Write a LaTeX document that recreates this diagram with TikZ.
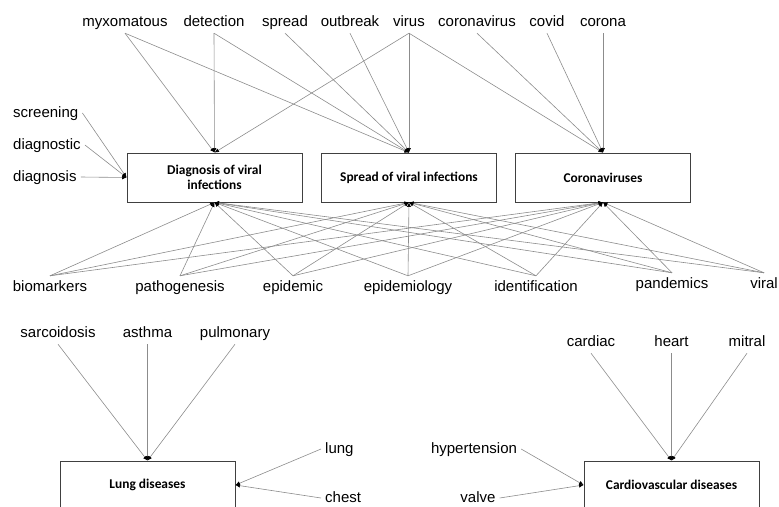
\documentclass[tikz,border=0pt]{standalone}
\usepackage{fontspec}
\setmainfont{Liberation Sans}
\newfontfamily\topicfont{Carlito}
\usetikzlibrary{arrows.meta}

\begin{document}
\begin{tikzpicture}[x=1pt, y=-1pt,
        word/.style={font=\fontsize{15}{18}\selectfont, text height=11pt, text depth=3pt, inner sep=4pt},
        topic/.style={draw=black!75, line width=0.8pt, minimum width=175pt, minimum height=49pt, align=center, font=\topicfont\bfseries\fontsize{13.4}{15}\selectfont},
        link/.style={draw=black!45, line width=0.6pt, -{Latex[black, length=4.5pt, width=4pt]}}]
        \useasboundingbox (0,0) rectangle (779,506);

        % topics
        \node[topic] (diag) at (214.5,177.5) {Diagnosis of viral\\infections};
        \node[topic] (sprd) at (409,177.5) {Spread of viral infections};
        \node[topic] (coro) at (603,177.5) {Coronaviruses};
        \node[topic, minimum height=48pt] (lungd) at (147.5,485) {Lung diseases};
        \node[topic, minimum height=48pt] (cardd) at (671.5,485) {Cardiovascular diseases};

        % top words
        \node[word] (myxo) at (125,22) {myxomatous};
        \node[word] (detect) at (214,22) {detection};
        \node[word] (spread) at (285,22) {spread};
        \node[word] (outbr) at (350,22) {outbreak};
        \node[word] (virus) at (409,22) {virus};
        \node[word] (coronav) at (477,22) {coronavirus};
        \node[word] (covid) at (547,22) {covid};
        \node[word] (corona) at (603,22) {corona};

        % left words
        \node[word, anchor=west] (screen) at (9,113) {screening};
        \node[word, anchor=west] (diagc) at (9,145) {diagnostic};
        \node[word, anchor=west] (diagn) at (9,177) {diagnosis};

        % bottom words
        \node[word] (biom) at (50,287) {biomarkers};
        \node[word] (patho) at (180,287) {pathogenesis};
        \node[word] (epid) at (293,287) {epidemic};
        \node[word] (epidy) at (408,287) {epidemiology};
        \node[word] (ident) at (536,287) {identification};
        \node[word] (pand) at (672,284) {pandemics};
        \node[word] (viral) at (764,284) {viral};

        % lung words
        \node[word] (sarc) at (58,333) {sarcoidosis};
        \node[word] (asth) at (147.5,333) {asthma};
        \node[word] (pulm) at (235,333) {pulmonary};
        \node[word, anchor=west] (lung) at (321,449) {lung};
        \node[word, anchor=west] (chest) at (321,498) {chest};

        % heart words
        \node[word] (card) at (591,342) {cardiac};
        \node[word] (heart) at (671.5,342) {heart};
        \node[word] (mitral) at (747,342) {mitral};
        \node[word] (hyper) at (474,449) {hypertension};
        \node[word] (valve) at (478,498) {valve};

        % top links
        \draw[link] (myxo.south) -- (diag.north);
        \draw[link] (myxo.south) -- (sprd.north);
        \draw[link] (detect.south) -- (diag.north);
        \draw[link] (detect.south) -- (sprd.north);
        \draw[link] (spread.south) -- (sprd.north);
        \draw[link] (outbr.south) -- (sprd.north);
        \draw[link] (virus.south) -- (diag.north);
        \draw[link] (virus.south) -- (sprd.north);
        \draw[link] (virus.south) -- (coro.north);
        \draw[link] (coronav.south) -- (coro.north);
        \draw[link] (covid.south) -- (coro.north);
        \draw[link] (corona.south) -- (coro.north);

        \draw[link] (screen.east) -- (diag.west);
        \draw[link] (diagc.east) -- (diag.west);
        \draw[link] (diagn.east) -- (diag.west);

        % bottom links
        \draw[link] (biom.north) -- (diag.south);
        \draw[link] (biom.north) -- (sprd.south);
        \draw[link] (biom.north) -- (coro.south);
        \draw[link] (patho.north) -- (diag.south);
        \draw[link] (patho.north) -- (sprd.south);
        \draw[link] (patho.north) -- (coro.south);
        \draw[link] (epid.north) -- (diag.south);
        \draw[link] (epid.north) -- (sprd.south);
        \draw[link] (epid.north) -- (coro.south);
        \draw[link] (epidy.north) -- (diag.south);
        \draw[link] (epidy.north) -- (sprd.south);
        \draw[link] (epidy.north) -- (coro.south);
        \draw[link] (ident.north) -- (diag.south);
        \draw[link] (ident.north) -- (sprd.south);
        \draw[link] (ident.north) -- (coro.south);
        \draw[link] (pand.north) -- (diag.south);
        \draw[link] (pand.north) -- (sprd.south);
        \draw[link] (pand.north) -- (coro.south);
        \draw[link] (viral.north) -- (diag.south);
        \draw[link] (viral.north) -- (sprd.south);
        \draw[link] (viral.north) -- (coro.south);

        % lung links
        \draw[link] (sarc.south) -- (lungd.north);
        \draw[link] (asth.south) -- (lungd.north);
        \draw[link] (pulm.south) -- (lungd.north);
        \draw[link] (lung.west) -- (lungd.east);
        \draw[link] (chest.west) -- (lungd.east);

        % heart links
        \draw[link] (card.south) -- (cardd.north);
        \draw[link] (heart.south) -- (cardd.north);
        \draw[link] (mitral.south) -- (cardd.north);
        \draw[link] (hyper.east) -- (cardd.west);
        \draw[link] (valve.east) -- (cardd.west);
    \end{tikzpicture}
\end{document}
